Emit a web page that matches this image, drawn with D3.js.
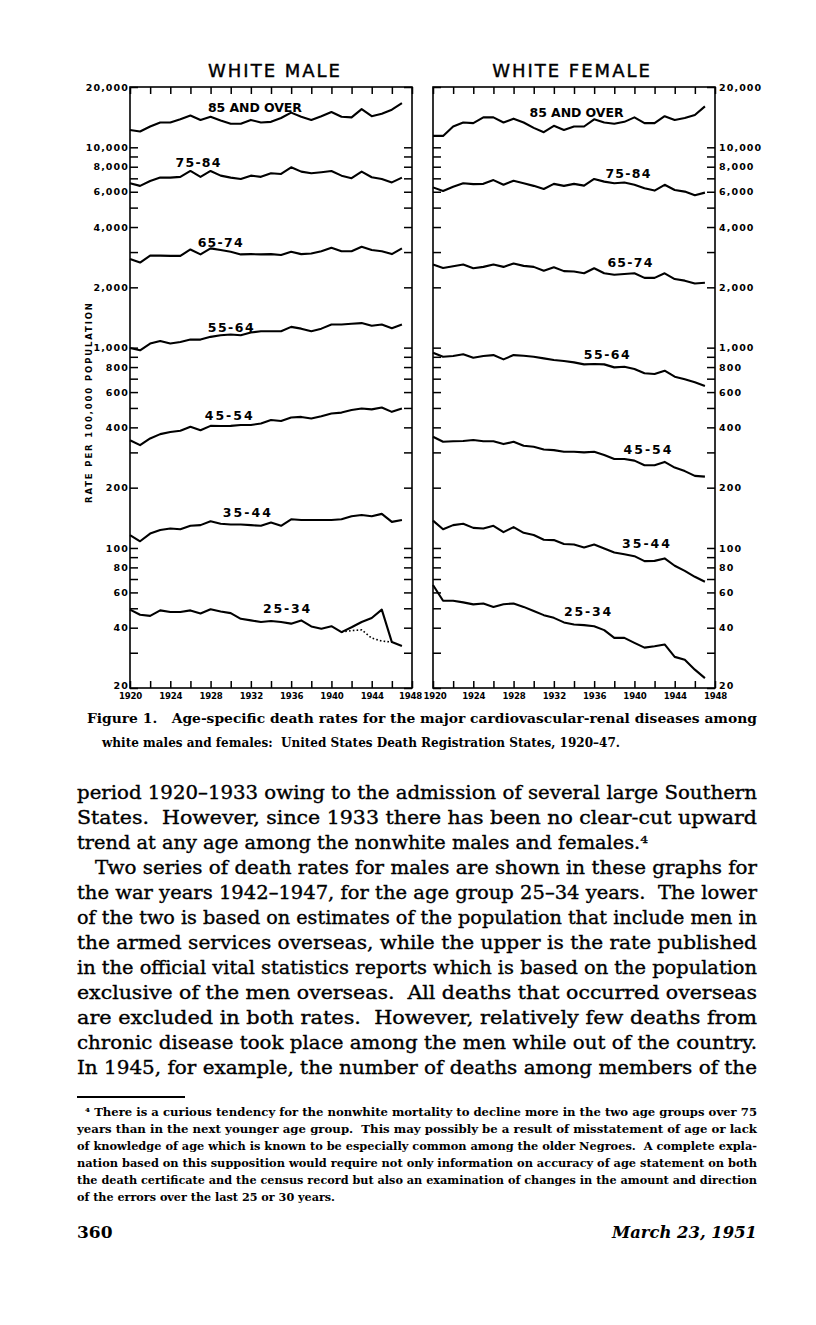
<!DOCTYPE html>
<html><head><meta charset="utf-8">
<script src="https://cdn.jsdelivr.net/npm/d3@7"></script>
<style>
body{margin:0;background:#fff}
text{white-space:pre}
</style>
</head><body>
<svg id="c" width="816" height="1325"></svg>
<script>
// ---------------- DATA ----------------
const years = d3.range(1920, 1948);
const ageGroups = ["85 AND OVER","75-84","65-74","55-64","45-54","35-44","25-34"];

const male85 = [12200,12000,12700,13300,13300,13800,14400,13700,14200,13600,13100,13100,13700,13300,13400,14000,14900,14200,13700,14300,15000,14200,14100,15500,14300,14700,15400,16600];
const male75 = [6620,6420,6790,7060,7060,7120,7620,7120,7620,7220,7060,6950,7220,7120,7420,7360,7950,7560,7420,7510,7620,7220,7010,7560,7090,6950,6680,7060];
const male65 = [2770,2660,2880,2880,2870,2870,3090,2920,3130,3070,3010,2920,2930,2920,2930,2900,3010,2930,2950,3030,3150,3030,3030,3190,3070,3030,2930,3130];
const male55 = [997,970,1048,1080,1048,1068,1097,1097,1132,1153,1163,1153,1189,1208,1208,1208,1270,1244,1208,1244,1304,1304,1316,1326,1285,1304,1250,1304];
const male45 = [345,326,352,370,379,385,403,387,407,406,407,411,411,418,435,430,448,451,443,455,469,474,488,497,492,503,478,497];
const male35 = [116,108,118,123,125,124,129,130,136,132,131,131,130,129,134,129,139,138,138,138,138,139,144,146,144,148,135,138];
const male25 = [49.2,46.4,45.8,48.8,47.9,47.9,48.8,47.1,49.4,48.2,47.3,44.3,43.5,42.7,43.2,42.7,41.9,43.5,40.6,39.5,40.7,38.0,40.2,42.7,44.7,49.2,33.9,32.4];
// lower series (population incl. armed forces overseas), 1941-1946
const male25AltYears = [1941,1942,1943,1944,1945,1946];
const male25Alt = [38.0,38.7,39.0,35.5,34.3,33.9];

const female85 = [11400,11400,12700,13300,13200,14100,14100,13300,13900,13300,12500,11900,12800,12200,12700,12700,13800,13300,13100,13400,14100,13200,13200,14300,13700,14000,14500,16000];
const female75 = [6310,6050,6350,6620,6550,6570,6860,6500,6810,6620,6420,6190,6570,6420,6570,6440,6950,6740,6620,6670,6500,6240,6080,6500,6120,6010,5770,5940];
const female65 = [2600,2500,2550,2600,2490,2530,2600,2530,2630,2560,2530,2420,2520,2410,2400,2350,2490,2350,2310,2330,2350,2230,2230,2350,2200,2160,2090,2110];
const female55 = [943,901,908,926,890,908,918,874,918,911,901,884,867,857,844,825,828,825,797,803,782,745,738,767,716,695,671,643];
const female45 = [359,339,341,342,346,341,341,330,339,324,320,310,308,302,302,300,302,291,278,278,273,259,259,269,252,242,229,227];
const female35 = [137,124,130,132,126,125,129,120,127,119,116,110,109.5,104.6,104,100.6,104,99.5,95,93,91,86,86.2,88.7,81.5,76.9,71.8,67.8];
const female25 = [65.3,54.5,54.5,53.5,52.3,52.8,50.8,52.4,52.8,50.8,48.5,46.2,44.8,42.5,41.5,41.2,40.7,38.9,35.6,35.6,33.6,31.8,32.3,33.0,28.6,27.7,24.7,22.4];

// label anchors in data units (year, rate)
const maleLabelYear = [1932.4,1926.75,1928.95,1930.0,1929.8,1931.6,1935.55];
const maleLabelRate = [15010,8005,3190,1201,435,142.7,47.4];
const femaleLabelYear = [1934.25,1939.35,1939.55,1937.25,1941.3,1941.15,1935.35];
const femaleLabelRate = [14220,7053,2535,878,294.5,100,45.8];

const yTickValues = [20000,10000,9000,8000,7000,6000,5000,4000,3000,2000,1000,900,800,700,600,500,400,300,200,100,90,80,70,60,50,40,30,20];
const yTickLabels = [20000,10000,8000,6000,4000,2000,1000,800,600,400,200,100,80,60,40,20];
const yearTicks = d3.range(1920, 1949, 2);
const yearLabels = [1920,1924,1928,1932,1936,1940,1944,1948];

const panelTitles = ["WHITE MALE","WHITE FEMALE"];
const yAxisTitle = "RATE PER 100,000 POPULATION";

const captionLines = [
  "Figure 1.   Age-specific death rates for the major cardiovascular-renal diseases among",
  "white males and females:  United States Death Registration States, 1920\u201347."
];
const bodyLines = [
  "period 1920\u20131933 owing to the admission of several large Southern",
  "States.  However, since 1933 there has been no clear-cut upward",
  "trend at any age among the nonwhite males and females.\u2074",
  "Two series of death rates for males are shown in these graphs for",
  "the war years 1942\u20131947, for the age group 25\u201334 years.  The lower",
  "of the two is based on estimates of the population that include men in",
  "the armed services overseas, while the upper is the rate published",
  "in the official vital statistics reports which is based on the population",
  "exclusive of the men overseas.  All deaths that occurred overseas",
  "are excluded in both rates.  However, relatively few deaths from",
  "chronic disease took place among the men while out of the country.",
  "In 1945, for example, the number of deaths among members of the"
];
const footnoteLines = [
  "\u2074 There is a curious tendency for the nonwhite mortality to decline more in the two age groups over 75",
  "years than in the next younger age group.  This may possibly be a result of misstatement of age or lack",
  "of knowledge of age which is known to be especially common among the older Negroes.  A complete expla-",
  "nation based on this supposition would require not only information on accuracy of age statement on both",
  "the death certificate and the census record but also an examination of changes in the amount and direction",
  "of the errors over the last 25 or 30 years."
];
const pageNumber = "360";
const pageDate = "March 23, 1951";

// ---------------- LAYOUT ----------------
const TOP = 87, BOTTOM = 688;
const svg = d3.select("#c");
const Y = d3.scaleLog().domain([20, 20000]).range([BOTTOM, TOP]);
const sans = "'DejaVu Sans', sans-serif";
const serif = "'DejaVu Serif', serif";

const panels = [
  { x: d3.scaleLinear().domain([1920,1948]).range([130,412]), titleX: 275,
    series: [male85,male75,male65,male55,male45,male35,male25],
    labelYear: maleLabelYear, labelRate: maleLabelRate, yLabels: "left", edgeYear: 1948, edgeDx: -2 },
  { x: d3.scaleLinear().domain([1920,1948]).range([433,715]), titleX: 572,
    series: [female85,female75,female65,female55,female45,female35,female25],
    labelYear: femaleLabelYear, labelRate: femaleLabelRate, yLabels: "right", edgeYear: 1920, edgeDx: 1.5 }
];
const labelWidths = [94,45,45,46,48,48,47];

const fmt = d3.format(",");
function styleAxis(g){
  g.select(".domain").remove();
  g.selectAll("line").attr("stroke","#000").attr("stroke-width",1.5);
  g.selectAll("text").attr("font-family",sans).attr("font-weight","bold")
    .attr("font-size",9.5).attr("fill","#000");
}

panels.forEach((p, pi) => {
  const x = p.x;
  const [x0, x1] = x.range();
  const g = svg.append("g");

  // title
  g.append("text").attr("x", p.titleX).attr("y", 77).attr("text-anchor","middle")
    .attr("font-family", sans).attr("font-size", 18).attr("letter-spacing", 2)
    .attr("stroke","#000").attr("stroke-width",0.4)
    .text(panelTitles[pi]);

  // frame
  g.append("rect").attr("x", x0).attr("y", TOP).attr("width", x1 - x0).attr("height", BOTTOM - TOP)
    .attr("fill","none").attr("stroke","#000").attr("stroke-width",1.6);

  // top & bottom year ticks
  g.append("g").attr("transform",`translate(0,${TOP})`)
    .call(d3.axisTop(x).tickValues(yearTicks).tickSize(-7).tickFormat("")).call(styleAxis);
  const bx = g.append("g").attr("transform",`translate(0,${BOTTOM})`)
    .call(d3.axisBottom(x).tickValues(yearTicks).tickSize(-7).tickPadding(5)
      .tickFormat(d => yearLabels.includes(d) ? String(d) : "")).call(styleAxis);
  bx.selectAll("text").attr("font-size", 8.6).attr("letter-spacing", -0.2)
    .attr("dx", d => d === p.edgeYear ? p.edgeDx : 0);

  // y ticks both sides
  const lblFmt = d => yTickLabels.includes(d) ? fmt(d) : "";
  const leftAxis = d3.axisLeft(Y).tickValues(yTickValues).tickSize(-8).tickPadding(2)
    .tickFormat(p.yLabels === "left" ? lblFmt : () => "");
  const rightAxis = d3.axisRight(Y).tickValues(yTickValues).tickSize(-8).tickPadding(4)
    .tickFormat(p.yLabels === "right" ? lblFmt : () => "");
  g.append("g").attr("transform",`translate(${x0},0)`).call(leftAxis).call(styleAxis)
    .selectAll("text").attr("letter-spacing", 1.1).attr("dx", 1)
    .attr("y", d => d === 20 ? -3 : null);
  g.append("g").attr("transform",`translate(${x1},0)`).call(rightAxis).call(styleAxis)
    .selectAll("text").attr("letter-spacing", 1.1)
    .attr("y", d => d === 20 ? -3 : null);

  // series lines
  const line = d3.line().x((d,i) => x(years[i])).y(d => Y(d));
  g.selectAll("path.series").data(p.series).enter().append("path")
    .attr("class","series").attr("d", line)
    .attr("fill","none").attr("stroke","#000").attr("stroke-width",2.1)
    .attr("stroke-linejoin","round");

  // labels
  ageGroups.forEach((lab, i) => {
    g.append("text").attr("x", x(p.labelYear[i])).attr("y", Y(p.labelRate[i]))
      .attr("text-anchor","middle").attr("font-family", sans).attr("font-weight","bold")
      .attr("font-size", 12.5).attr("textLength", labelWidths[i]).attr("lengthAdjust","spacing")
      .text(lab);
  });

  if (pi === 0) {
    const alt = d3.line().x((d,i) => x(male25AltYears[i])).y(d => Y(d));
    g.append("path").attr("d", alt(male25Alt)).attr("fill","none").attr("stroke","#000")
      .attr("stroke-width",1.6).attr("stroke-dasharray","1.6,2.2");
  }
});

// y axis title
svg.append("text").attr("transform","translate(92,403) rotate(-90)")
  .attr("text-anchor","middle").attr("font-family",sans).attr("font-weight","bold")
  .attr("font-size",8.5).attr("textLength",200).attr("lengthAdjust","spacing")
  .text(yAxisTitle);

// caption
const capX = [87,102], capW = [670,518], capY = [723,747];
captionLines.forEach((t,i) => {
  svg.append("text").attr("x",capX[i]).attr("y",capY[i]).attr("font-family",serif)
    .attr("font-weight","bold").attr("font-size",13.5)
    .attr("textLength",capW[i]).attr("lengthAdjust","spacingAndGlyphs").text(t);
});

// body text
const bodyX = [77,77,77,95,77,77,77,77,77,77,77,77];
const bodyW = [680,680,571,662,680,680,680,680,680,680,680,680];
bodyLines.forEach((t,i) => {
  svg.append("text").attr("x",bodyX[i]).attr("y",799 + 25*i).attr("font-family",serif)
    .attr("font-size",18).attr("stroke","#000").attr("stroke-width",0.35)
    .attr("textLength",bodyW[i]).attr("lengthAdjust","spacingAndGlyphs").text(t);
});

// footnote rule
svg.append("line").attr("x1",77).attr("x2",185).attr("y1",1097).attr("y2",1097)
  .attr("stroke","#000").attr("stroke-width",2);

const fnX = [85,77,77,77,77,77], fnW = [672,680,680,680,680,258];
footnoteLines.forEach((t,i) => {
  svg.append("text").attr("x",fnX[i]).attr("y",1116 + 17*i).attr("font-family",serif)
    .attr("font-weight","bold").attr("font-size",11)
    .attr("textLength",fnW[i]).attr("lengthAdjust","spacingAndGlyphs").text(t);
});

// page footer
svg.append("text").attr("x",77).attr("y",1238).attr("font-family",serif)
  .attr("font-weight","bold").attr("font-size",17).text(pageNumber);
svg.append("text").attr("x",757).attr("y",1238).attr("text-anchor","end").attr("font-family",serif)
  .attr("font-weight","bold").attr("font-style","italic").attr("font-size",17)
  .attr("textLength",145).attr("lengthAdjust","spacingAndGlyphs").text(pageDate);
</script>
</body></html>
